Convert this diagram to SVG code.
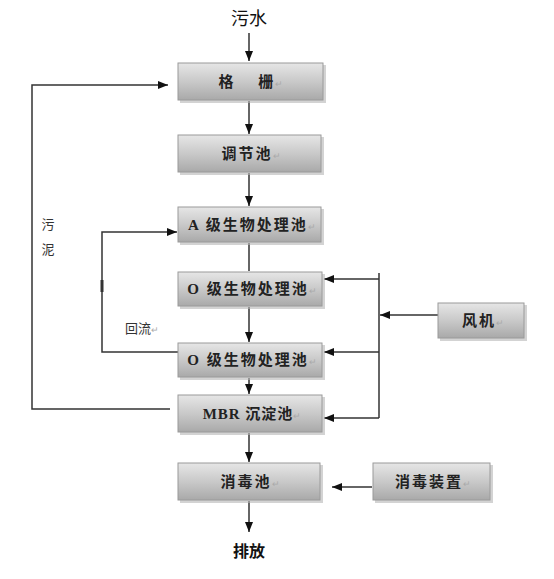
<svg xmlns="http://www.w3.org/2000/svg" width="554" height="579" viewBox="0 0 554 579">
<defs>
<linearGradient id="g" x1="0" y1="0" x2="0" y2="1">
<stop offset="0" stop-color="#e6e6e6"/>
<stop offset="0.5" stop-color="#c9c9c9"/>
<stop offset="1" stop-color="#a9a9a9"/>
</linearGradient>
<marker id="ah" markerWidth="10" markerHeight="8" refX="10" refY="4" orient="auto" markerUnits="userSpaceOnUse">
<path d="M0,0 L10,4 L0,8 Z" fill="#111"/>
</marker>
</defs>
<style>
.box rect.b{fill:url(#g);stroke:#9a9a9a;stroke-width:1}
.box rect.s{fill:#b5b5b5;opacity:0.6}
.lbl{font-family:"Liberation Serif","Noto Sans CJK SC",serif;font-size:15px;font-weight:bold;fill:#222;text-anchor:middle;letter-spacing:2px}
.pm{font-size:9px;fill:#aaa;font-weight:normal;letter-spacing:0}
.t{font-family:"Noto Sans CJK SC",sans-serif;font-size:16px;font-weight:bold;fill:#111;text-anchor:middle}
.side{font-family:"Noto Sans CJK SC",sans-serif;font-size:13px;fill:#333;text-anchor:middle}
.c line,.c polyline{stroke:#333;stroke-width:1.5;fill:none}
</style>
<rect width="554" height="579" fill="#fff"/>
<text class="t" x="249" y="25" style="font-size:18px;font-weight:normal">污水</text>
<text class="t" x="249" y="557">排放</text>
<text class="side" x="48" y="229">污</text>
<text class="side" x="48" y="254">泥</text>
<text class="side" x="142" y="333">回流<tspan class="pm">↵</tspan></text>
<g class="c">
<line x1="249" y1="33" x2="249" y2="61" marker-end="url(#ah)"/>
<line x1="249" y1="101" x2="249" y2="134" marker-end="url(#ah)"/>
<line x1="249" y1="173" x2="249" y2="206" marker-end="url(#ah)"/>
<line x1="249" y1="243" x2="249" y2="271"/>
<line x1="249" y1="307" x2="249" y2="342" marker-end="url(#ah)"/>
<line x1="249" y1="378" x2="249" y2="394" marker-end="url(#ah)"/>
<line x1="249" y1="433" x2="249" y2="462" marker-end="url(#ah)"/>
<line x1="249" y1="501" x2="249" y2="532" marker-end="url(#ah)"/>
<polyline points="170,409 32,409 32,85 168,85" marker-end="url(#ah)"/>
<polyline points="178,352 102,352 102,232 177,232" marker-end="url(#ah)"/>
<line x1="102" y1="280" x2="102" y2="292" style="stroke-width:3"/>
<line x1="379" y1="273" x2="379" y2="418"/>
<line x1="379" y1="279" x2="324" y2="279" marker-end="url(#ah)"/>
<line x1="379" y1="352" x2="324" y2="352" marker-end="url(#ah)"/>
<line x1="379" y1="418" x2="324" y2="418" marker-end="url(#ah)"/>
<line x1="438" y1="315" x2="380" y2="315" marker-end="url(#ah)"/>
<line x1="372" y1="487" x2="332" y2="487" marker-end="url(#ah)"/>
</g>
<g id="n1" class="box"><rect class="s" x="180" y="65" width="146" height="38"/><rect class="b" x="178" y="63" width="145" height="37"/><text class="lbl" x="251" y="87">格　 栅<tspan class="pm">↵</tspan></text></g>
<g id="n2" class="box"><rect class="s" x="180" y="137" width="144" height="38"/><rect class="b" x="178" y="135" width="143" height="37"/><text class="lbl" x="251" y="159">调节池<tspan class="pm">↵</tspan></text></g>
<g id="n3" class="box"><rect class="s" x="180" y="209" width="144" height="36"/><rect class="b" x="178" y="207" width="143" height="35"/><text class="lbl" x="252" y="230">A 级生物处理池<tspan class="pm">↵</tspan></text></g>
<g id="n4" class="box"><rect class="s" x="180" y="274" width="145" height="35"/><rect class="b" x="178" y="272" width="144" height="34"/><text class="lbl" x="252" y="294">O 级生物处理池<tspan class="pm">↵</tspan></text></g>
<g id="n5" class="box"><rect class="s" x="180" y="345" width="145" height="35"/><rect class="b" x="178" y="343" width="144" height="34"/><text class="lbl" x="252" y="365">O 级生物处理池<tspan class="pm">↵</tspan></text></g>
<g id="n6" class="box"><rect class="s" x="180" y="397" width="145" height="38"/><rect class="b" x="178" y="395" width="144" height="37"/><text class="lbl" x="252" y="419" style="letter-spacing:1px">MBR 沉淀池<tspan class="pm">↵</tspan></text></g>
<g id="n7" class="box"><rect class="s" x="180" y="465" width="143" height="38"/><rect class="b" x="178" y="463" width="142" height="37"/><text class="lbl" x="250" y="487">消毒池<tspan class="pm">↵</tspan></text></g>
<g id="n8" class="box"><rect class="s" x="440" y="305" width="87" height="36"/><rect class="b" x="438" y="303" width="86" height="35"/><text class="lbl" x="483" y="326">风机<tspan class="pm">↵</tspan></text></g>
<g id="n9" class="box"><rect class="s" x="375" y="465" width="118" height="38"/><rect class="b" x="373" y="463" width="117" height="37"/><text class="lbl" x="433" y="487">消毒装置<tspan class="pm">↵</tspan></text></g>
</svg>
